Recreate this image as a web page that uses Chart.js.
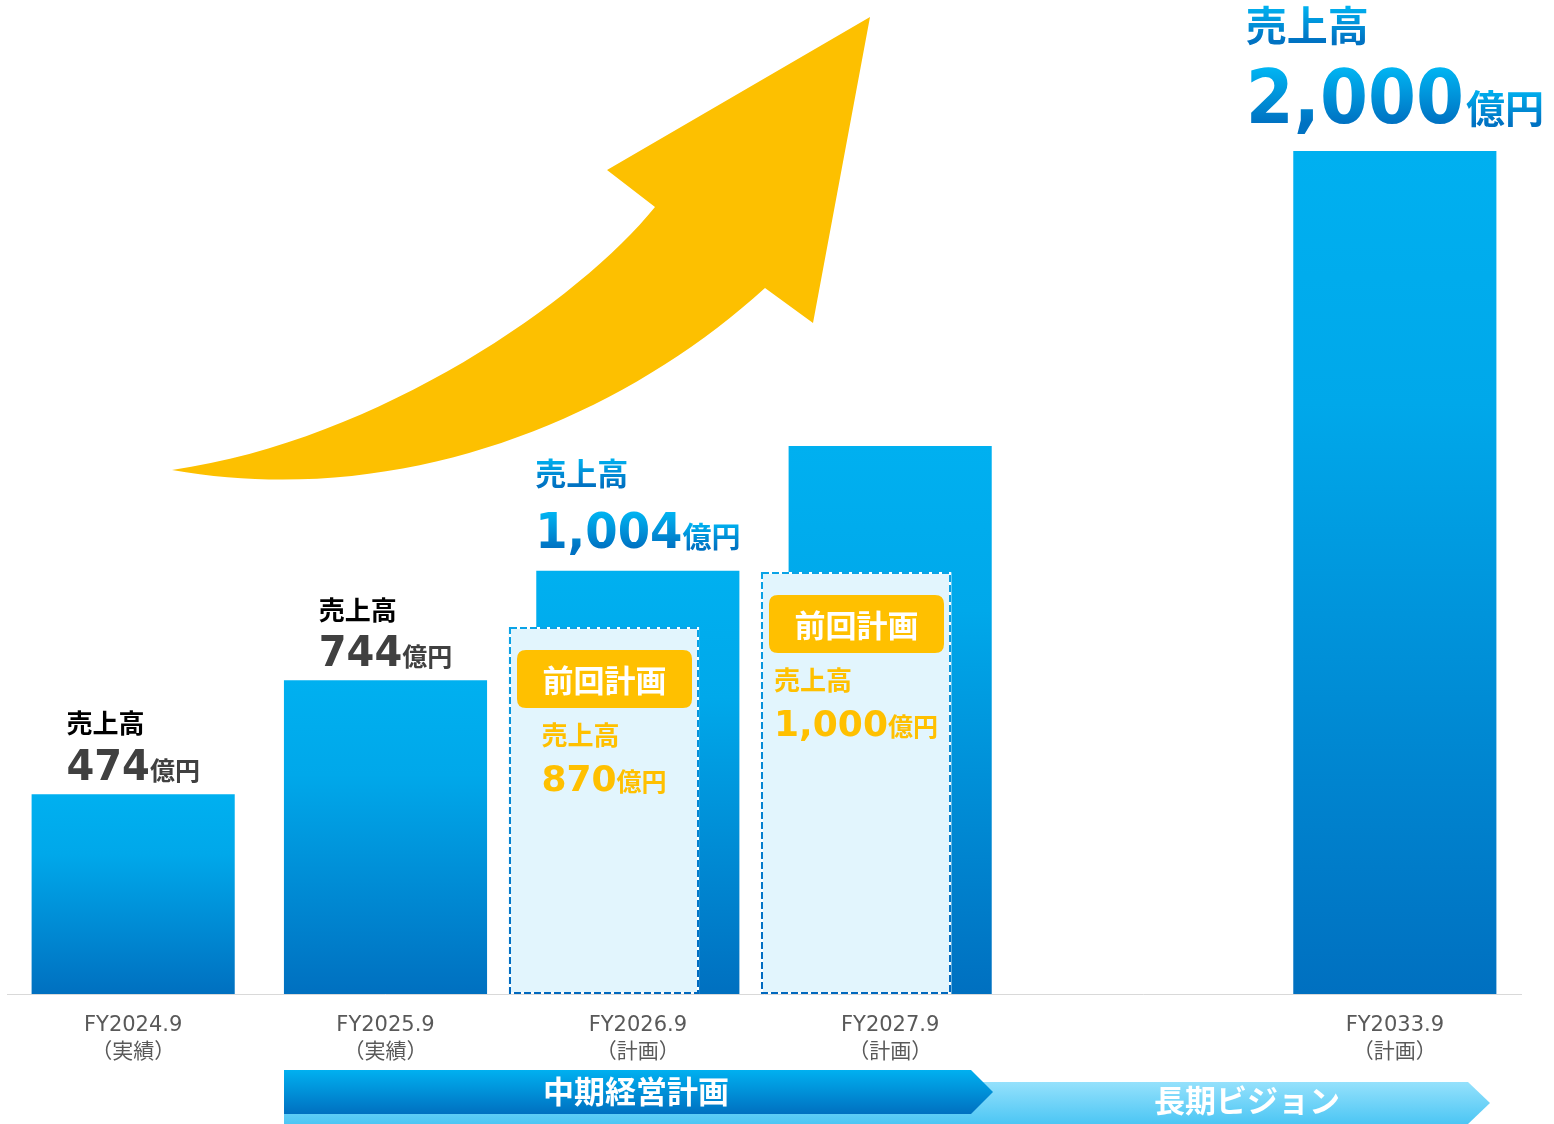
<!DOCTYPE html>
<html lang="ja">
<head>
<meta charset="utf-8">
<title>売上高の推移</title>
<script src="https://cdn.jsdelivr.net/npm/chart.js@4.4.1/dist/chart.umd.min.js"></script>
<style>
  html, body { margin: 0; padding: 0; background: #fff; }
  #wrap { position: relative; width: 1554px; height: 1124px; }
</style>
</head>
<body>
<div id="wrap"><canvas id="chart"></canvas></div>
<script>
// 会計年度と区分
const fiscalYears = ['FY2024.9', 'FY2025.9', 'FY2026.9', 'FY2027.9', '', 'FY2033.9'];
const periodKinds = ['（実績）', '（実績）', '（計画）', '（計画）', '', '（計画）'];
// 売上高（億円）
const salesValues = [474, 744, 1004, 1300, null, 2000];
// 前回計画の売上高（億円）
const previousPlanValues = [null, null, 870, 1000, null, null];

const salesLabel = '売上高';
const unitLabel = '億円';
const planBadgeLabel = '前回計画';
const midTermLabel = '中期経営計画';
const longTermLabel = '長期ビジョン';

const JP = '"Noto Sans CJK JP", "Noto Sans", sans-serif';
const NUM = '"DejaVu Sans", "Noto Sans", sans-serif';
const YELLOW = '#ffc000';

// 前回計画の枠は各年度の棒より少し左に描く
const PLAN_SHIFT = -0.135;

// 棒の上に置く見出しの書式（null の年度は見出しなし）
const labelStyles = [
  { head: 26, num: 43, sx: 0.93, unit: 25, gap: 0, headUp: 61, numUp: 14, headColor: '#000000', numColor: '#404040' },
  { head: 26, num: 43, sx: 0.93, unit: 25, gap: 0, headUp: 60, numUp: 14, headColor: '#000000', numColor: '#404040' },
  { head: 31, num: 49, sx: 0.95, unit: 29, gap: 0, headUp: 86, numUp: 23, blue: true },
  null,
  null,
  { head: 41, num: 75, sx: 0.92, unit: 39, gap: 2, headUp: 110, numUp: 28, blue: true }
];
const planLabelStyle = { head: 26, num: 36, sx: 1.0, unit: 25, gap: 0, headColor: YELLOW, numColor: YELLOW };

function fmt(v) { return v.toLocaleString('en-US'); }

function barGradient(ctx) {
  const chart = ctx.chart;
  const y = chart.scales.y;
  if (ctx.type !== 'data' || !y || ctx.raw == null) return '#00a0e0';
  const top = y.getPixelForValue(ctx.raw);
  const bottom = y.getPixelForValue(0);
  if (!isFinite(top) || !isFinite(bottom)) return '#00a0e0';
  const g = chart.ctx.createLinearGradient(0, top, 0, bottom);
  g.addColorStop(0, '#00b0f0');
  g.addColorStop(0.3, '#00a8ea');
  g.addColorStop(1, '#0070c0');
  return g;
}

function blueTextGradient(c, top, bottom) {
  const g = c.createLinearGradient(0, top, 0, bottom);
  g.addColorStop(0, '#00b4f2');
  g.addColorStop(1, '#0072c2');
  return g;
}

// 「売上高 / 数値億円」の二段見出し。数値の行の幅で中央に揃え、左揃えで描く
function drawValueLabel(c, cx, headBase, numBase, value, st) {
  const numText = fmt(value);
  c.save();
  c.textBaseline = 'alphabetic';
  c.textAlign = 'left';
  c.font = `bold ${st.num}px ${NUM}`;
  const wNum = c.measureText(numText).width * st.sx;
  c.font = `bold ${st.unit}px ${JP}`;
  const wUnit = c.measureText(unitLabel).width;
  const left = cx - (wNum + st.gap + wUnit) / 2;

  c.font = `bold ${st.head}px ${JP}`;
  c.fillStyle = st.blue ? blueTextGradient(c, headBase - st.head * 0.88, headBase) : st.headColor;
  c.fillText(salesLabel, left, headBase);

  c.save();
  c.translate(left, numBase);
  c.scale(st.sx, 1);
  c.font = `bold ${st.num}px ${NUM}`;
  c.fillStyle = st.blue ? blueTextGradient(c, -st.num * 0.73, 0) : st.numColor;
  c.fillText(numText, 0, 0);
  c.restore();

  c.font = `bold ${st.unit}px ${JP}`;
  c.fillStyle = st.blue ? blueTextGradient(c, numBase - st.unit * 0.88, numBase) : st.numColor;
  c.fillText(unitLabel, left + wNum + st.gap, numBase);
  c.restore();
}

function roundRectPath(c, x, y, w, h, r) {
  c.beginPath();
  c.moveTo(x + r, y);
  c.lineTo(x + w - r, y);
  c.quadraticCurveTo(x + w, y, x + w, y + r);
  c.lineTo(x + w, y + h - r);
  c.quadraticCurveTo(x + w, y + h, x + w - r, y + h);
  c.lineTo(x + r, y + h);
  c.quadraticCurveTo(x, y + h, x, y + h - r);
  c.lineTo(x, y + r);
  c.quadraticCurveTo(x, y, x + r, y);
  c.closePath();
}

const decorations = {
  id: 'decorations',
  beforeDatasetsDraw(chart) {
    // 成長を示す黄色の矢印
    const c = chart.ctx;
    c.save();
    c.fillStyle = '#fdc000';
    c.beginPath();
    c.moveTo(870, 17);
    c.lineTo(607, 170);
    c.lineTo(655, 207);
    c.bezierCurveTo(580, 300, 380, 440, 172, 470);
    c.bezierCurveTo(400, 510, 620, 420, 765, 288);
    c.lineTo(813, 323);
    c.closePath();
    c.fill();
    c.restore();
  },
  afterDatasetsDraw(chart) {
    const c = chart.ctx;

    // 売上高の見出し
    const salesMeta = chart.getDatasetMeta(0);
    salesMeta.data.forEach((bar, i) => {
      const st = labelStyles[i];
      if (!st || salesValues[i] == null) return;
      const p = bar.getProps(['x', 'y'], true);
      drawValueLabel(c, p.x, p.y - st.headUp, p.y - st.numUp, salesValues[i], st);
    });

    // 前回計画の点線枠と見出し
    const planMeta = chart.getDatasetMeta(1);
    const planEntries = previousPlanValues.map((v, i) => ({ v, i })).filter(e => e.v != null);
    planMeta.data.forEach((bar, k) => {
      const p = bar.getProps(['x', 'y', 'base', 'width'], true);
      const left = Math.round(p.x - p.width / 2) + 1;
      const right = Math.round(p.x + p.width / 2) - 1;
      const top = Math.round(p.y) + 1;
      const bottom = Math.round(p.base) - 1;

      c.save();
      c.lineWidth = 2;
      c.strokeStyle = '#ffffff';
      c.strokeRect(left, top, right - left, bottom - top);
      const g = c.createLinearGradient(0, top, 0, bottom);
      g.addColorStop(0, '#0aa3e6');
      g.addColorStop(1, '#0068be');
      c.strokeStyle = g;
      c.setLineDash([7, 3]);
      c.strokeRect(left, top, right - left, bottom - top);
      c.restore();

      // 「前回計画」バッジ
      const bx = left + 7, bw = right - left - 13, by = top + 22, bh = 58;
      c.save();
      c.fillStyle = YELLOW;
      roundRectPath(c, bx, by, bw, bh, 9);
      c.fill();
      c.fillStyle = '#ffffff';
      c.font = `bold 31px ${JP}`;
      c.textAlign = 'center';
      c.textBaseline = 'middle';
      c.fillText(planBadgeLabel, bx + bw / 2, by + bh / 2 + 1);
      c.restore();

      const value = planEntries[k].v;
      drawValueLabel(c, (left + right) / 2, top + 117, top + 163, value, planLabelStyle);
    });
  },
  afterDraw(chart) {
    const c = chart.ctx;
    c.save();
    // 長期ビジョンの帯
    let g = c.createLinearGradient(0, 1082, 0, 1124);
    g.addColorStop(0, '#95e1fc');
    g.addColorStop(1, '#4cc6f4');
    c.fillStyle = g;
    c.beginPath();
    c.moveTo(284, 1082);
    c.lineTo(1468, 1082);
    c.lineTo(1490, 1103);
    c.lineTo(1468, 1124);
    c.lineTo(284, 1124);
    c.closePath();
    c.fill();

    // 中期経営計画の帯
    g = c.createLinearGradient(0, 1070, 0, 1114);
    g.addColorStop(0, '#00b0f0');
    g.addColorStop(1, '#0070c0');
    c.fillStyle = g;
    c.beginPath();
    c.moveTo(284, 1070);
    c.lineTo(971, 1070);
    c.lineTo(993, 1092);
    c.lineTo(971, 1114);
    c.lineTo(284, 1114);
    c.closePath();
    c.fill();

    c.fillStyle = '#ffffff';
    c.font = `bold 31px ${JP}`;
    c.textAlign = 'center';
    c.textBaseline = 'alphabetic';
    c.fillText(midTermLabel, 636, 1103);
    c.fillText(longTermLabel, 1247, 1112);
    c.restore();
  }
};

new Chart(document.getElementById('chart'), {
  type: 'bar',
  data: {
    labels: fiscalYears,
    datasets: [
      {
        label: salesLabel,
        data: salesValues,
        xAxisID: 'x',
        backgroundColor: barGradient,
        borderWidth: 0,
        categoryPercentage: 1,
        barPercentage: 0.805,
        grouped: false,
        order: 1
      },
      {
        label: planBadgeLabel,
        data: previousPlanValues
          .map((v, i) => (v == null ? null : { x: i + PLAN_SHIFT, y: v }))
          .filter(Boolean),
        xAxisID: 'x2',
        backgroundColor: '#e2f5fd',
        borderWidth: 0,
        barThickness: 190,
        grouped: false,
        order: 0
      }
    ]
  },
  options: {
    responsive: true,
    maintainAspectRatio: false,
    animation: false,
    devicePixelRatio: 1,
    layout: { padding: { left: 7, right: 33, top: 0, bottom: 0 } },
    plugins: { legend: { display: false }, tooltip: { enabled: false } },
    scales: {
      x: {
        type: 'category',
        offset: true,
        grid: { display: false, drawTicks: false },
        border: { display: true, color: '#d9d9d9', width: 1 },
        ticks: {
          color: '#595959',
          font: { family: '"DejaVu Sans", "Noto Sans CJK JP", sans-serif', size: 21, lineHeight: 1.3 },
          padding: 18,
          maxRotation: 0,
          autoSkip: false,
          callback: (v, i) => (fiscalYears[i] ? [fiscalYears[i], periodKinds[i]] : '')
        },
        afterFit: (s) => { s.height = 130; }
      },
      x2: { type: 'linear', display: false, min: -0.5, max: 5.5, offset: false },
      y: { display: false, min: 0, max: 2358 }
    }
  },
  plugins: [decorations]
});
</script>
</body>
</html>
